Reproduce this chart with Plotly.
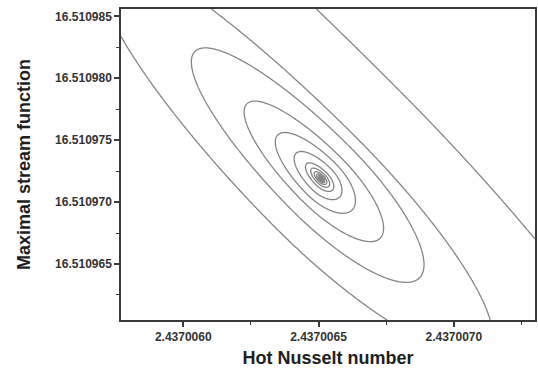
import numpy as np
import plotly.graph_objects as go

# Axis windows (data units)
x_range = [2.43700577, 2.43700730]
y_range = [16.51096048, 16.51098559]

# Tick positions and labels
x_tickvals = [2.4370060, 2.4370065, 2.4370070]
x_ticktext = ["2.4370060", "2.4370065", "2.4370070"]
x_minor = [2.43700625, 2.43700675, 2.43700725]
y_tickvals = [16.510965, 16.510970, 16.510975, 16.510980, 16.510985]
y_ticktext = ["16.510965", "16.510970", "16.510975", "16.510980", "16.510985"]
y_minor = [16.5109625, 16.5109675, 16.5109725, 16.5109775, 16.5109825]

# Optimum and the frame used to describe the contour family:
# u runs along the valley (towards larger x / smaller y), w across it.
x_opt = 2.43700651
y_opt = 16.51097188
x_unit = 3.668e-9      # x length of one shape unit
y_unit = 8.078e-8      # y length of one shape unit

# Contour family, one entry per level (innermost listed first), in shape units
level_index = [-4, -3, -2, -1, 0, 1, 2]
reach_down_valley = [16, 26, 44, 84, 140, 238, 530]    # along +u
reach_up_valley = [21, 36, 62, 106, 180, 312, 800]     # along -u
half_width_upper = [8, 14, 21, 29, 43, 54, 118]        # along +w
half_width_lower = [8, 14, 21, 29, 43, 67, 300]        # along -w
inner_shrink = 0.4       # log size step per level inside the listed ones
innermost_level = -14


def extent(k, table):
    """Size of level k along one half-axis (log-interpolated)."""
    ka = np.asarray(level_index, float)
    la = np.log(np.asarray(table, float))
    out = np.interp(k, ka, la)
    out = np.where(k < ka[0], la[0] + inner_shrink * (k - ka[0]), out)
    top_slope = (la[-1] - la[-2]) / (ka[-1] - ka[-2])
    out = np.where(k > ka[-1], la[-1] + top_slope * (k - ka[-1]), out)
    return np.exp(out)


# Sampling grid, refined around the optimum
xs = np.union1d(np.linspace(x_range[0], x_range[1], 460),
                np.linspace(x_opt - 18 * x_unit, x_opt + 18 * x_unit, 110))
ys = np.union1d(np.linspace(y_range[0], y_range[1], 400),
                np.linspace(y_opt - 18 * y_unit, y_opt + 18 * y_unit, 110))
X, Y = np.meshgrid(xs, ys)
xi = (X - x_opt) / x_unit
eta = (Y - y_opt) / y_unit
u = (xi - eta) / np.sqrt(2.0)
w = (xi + eta) / np.sqrt(2.0)
down = u >= 0
upper = w >= 0

# Level of every grid node: the k whose quarter-ellipses pass through it
lo = np.full(u.shape, -20.0)
hi = np.full(u.shape, 4.0)
for _ in range(44):
    mid = 0.5 * (lo + hi)
    r = np.where(down, extent(mid, reach_down_valley), extent(mid, reach_up_valley))
    h = np.where(upper, extent(mid, half_width_upper), extent(mid, half_width_lower))
    outside = (u / r) ** 2 + (w / h) ** 2 > 1.0
    lo = np.where(outside, mid, lo)
    hi = np.where(outside, hi, mid)
z = np.round(0.5 * (lo + hi), 4)

fig = go.Figure(go.Contour(
    x=xs, y=ys, z=z,
    contours=dict(start=innermost_level, end=level_index[-1], size=1, coloring="none"),
    line=dict(color="#858585", width=1.3, smoothing=1.0),
    showscale=False,
    hoverinfo="skip",
))

axis_common = dict(
    showgrid=False, zeroline=False,
    showline=True, linecolor="#3a3a3a", linewidth=1.5, mirror=True,
    ticks="outside", ticklen=5, tickwidth=1.5, tickcolor="#3a3a3a",
    tickfont=dict(family="Liberation Sans", size=12, color="#333333", weight="bold"),
)

fig.update_xaxes(
    range=x_range, tickvals=x_tickvals, ticktext=x_ticktext,
    minor=dict(tickvals=x_minor, ticks="outside", ticklen=3, tickwidth=1.2, tickcolor="#3a3a3a"),
    title=dict(text="Hot Nusselt number", standoff=8,
               font=dict(family="Liberation Sans", size=18, color="#1e1e1e", weight="bold")),
    **axis_common,
)
fig.update_yaxes(
    range=y_range, tickvals=y_tickvals, ticktext=y_ticktext,
    minor=dict(tickvals=y_minor, ticks="outside", ticklen=3, tickwidth=1.2, tickcolor="#3a3a3a"),
    title=dict(text="Maximal stream function", standoff=20,
               font=dict(family="Liberation Sans", size=18, color="#1e1e1e", weight="bold")),
    **axis_common,
)

fig.update_layout(
    width=538, height=374,
    margin=dict(l=121, r=1, t=9, b=54),
    plot_bgcolor="white", paper_bgcolor="white",
    showlegend=False,
)

fig.write_html("out.html")
